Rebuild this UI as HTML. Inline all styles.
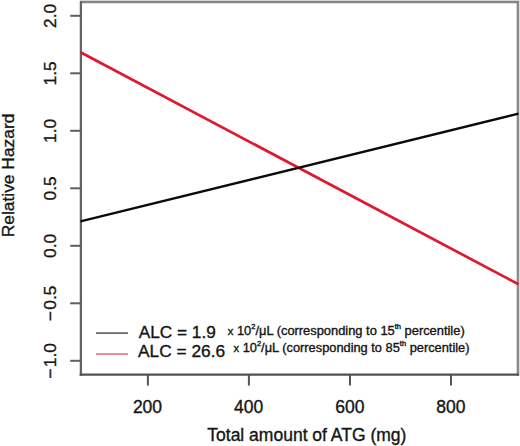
<!DOCTYPE html>
<html><head><meta charset="utf-8">
<style>
html,body{margin:0;padding:0;background:#fff;width:520px;height:446px;overflow:hidden}
svg{display:block}
text{font-family:"Liberation Sans",sans-serif;fill:#151515;stroke:#151515;stroke-width:0.35px}
</style></head>
<body>
<svg width="520" height="446" viewBox="0 0 520 446">
<!-- box -->
<rect x="80" y="0" width="440" height="1" fill="#d4d4d4"/>
<rect x="519" y="0" width="1" height="376" fill="#dcdcdc"/>
<line x1="80" y1="2.2" x2="519" y2="2.2" stroke="#848484" stroke-width="2.2"/>
<line x1="517.8" y1="1.1" x2="517.8" y2="375.7" stroke="#858585" stroke-width="2.2"/>
<line x1="80.9" y1="1.1" x2="80.9" y2="375.7" stroke="#646464" stroke-width="2.3"/>
<line x1="79.7" y1="374.6" x2="519" y2="374.6" stroke="#525252" stroke-width="2.3"/>
<!-- y ticks -->
<g stroke="#5e5e5e" stroke-width="2">
<line x1="70.2" y1="15.8" x2="81" y2="15.8"/>
<line x1="70.2" y1="73.3" x2="81" y2="73.3"/>
<line x1="70.2" y1="130.8" x2="81" y2="130.8"/>
<line x1="70.2" y1="188.3" x2="81" y2="188.3"/>
<line x1="70.2" y1="245.8" x2="81" y2="245.8"/>
<line x1="70.2" y1="303.3" x2="81" y2="303.3"/>
<line x1="70.2" y1="360.8" x2="81" y2="360.8"/>
</g>
<!-- x ticks -->
<g stroke="#555" stroke-width="2">
<line x1="147.9" y1="374" x2="147.9" y2="385.6"/>
<line x1="248.9" y1="374" x2="248.9" y2="385.6"/>
<line x1="350" y1="374" x2="350" y2="385.6"/>
<line x1="451" y1="374" x2="451" y2="385.6"/>
</g>
<!-- y labels -->
<g font-size="17.3" text-anchor="middle">
<text transform="translate(56.2,15.9) rotate(-90)">2.0</text>
<text transform="translate(56.2,73.4) rotate(-90)">1.5</text>
<text transform="translate(56.2,130.9) rotate(-90)">1.0</text>
<text transform="translate(56.2,188.4) rotate(-90)">0.5</text>
<text transform="translate(56.2,245.9) rotate(-90)">0.0</text>
<text transform="translate(56.2,303.5) rotate(-90)">−<tspan dx="1.5">0.5</tspan></text>
<text transform="translate(56.2,361.0) rotate(-90)">−<tspan dx="1.5">1.0</tspan></text>
</g>
<!-- x labels -->
<g font-size="17.5" text-anchor="middle">
<text x="147.5" y="412.8">200</text>
<text x="248.7" y="412.8">400</text>
<text x="349.8" y="412.8">600</text>
<text x="450.8" y="412.8">800</text>
</g>
<!-- titles -->
<text x="207.3" y="440.9" font-size="17.5">Total amount of ATG (mg)</text>
<text transform="translate(14,237.3) rotate(-90)" font-size="17.4">Relative Hazard</text>
<!-- data lines -->
<line x1="80.5" y1="52.2" x2="518.5" y2="284.3" stroke="#de1a2e" stroke-width="2.7"/>
<line x1="80.5" y1="221.4" x2="518.5" y2="113.6" stroke="#0a0a0a" stroke-width="2.4"/>
<!-- legend -->
<line x1="96" y1="333.1" x2="128" y2="333.1" stroke="#707070" stroke-width="1.9"/>
<line x1="96" y1="354" x2="128" y2="354" stroke="#f08890" stroke-width="1.9"/>
<text x="138.8" y="337.6" font-size="17.2">ALC = 1.9</text>
<text x="138.1" y="356.9" font-size="17.3">ALC = 26.6</text>
<g font-size="12" style="fill:#4a4a4a;stroke:none">
<text x="227.7" y="335.2" textLength="237" lengthAdjust="spacingAndGlyphs"><tspan font-size="10.5">x</tspan> 10<tspan dy="-5.8" font-size="7">2</tspan><tspan dy="5.8">/μL (corresponding to 15</tspan><tspan dy="-5.8" font-size="7">th</tspan><tspan dy="5.8"> percentile)</tspan></text>
<text x="233.5" y="352.0" textLength="236" lengthAdjust="spacingAndGlyphs"><tspan font-size="10.5">x</tspan> 10<tspan dy="-5.8" font-size="7">2</tspan><tspan dy="5.8">/μL (corresponding to 85</tspan><tspan dy="-5.8" font-size="7">th</tspan><tspan dy="5.8"> percentile)</tspan></text>
</g>
</svg>
</body></html>
